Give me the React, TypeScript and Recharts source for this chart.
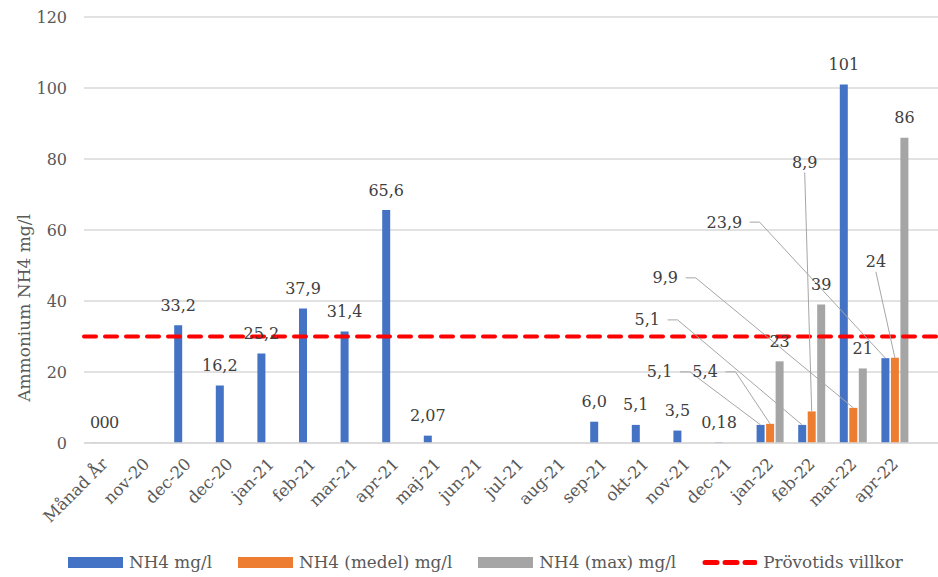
import React from 'react';
import {
  BarChart,
  Bar,
  XAxis,
  YAxis,
  CartesianGrid,
  ReferenceLine,
  LabelList,
} from 'recharts';

const categories = [
  'Månad År', 'nov-20', 'dec-20', 'dec-20', 'jan-21', 'feb-21', 'mar-21', 'apr-21',
  'maj-21', 'jun-21', 'jul-21', 'aug-21', 'sep-21', 'okt-21', 'nov-21', 'dec-21',
  'jan-22', 'feb-22', 'mar-22', 'apr-22',
];

const nh4 = [
  0, null, 33.2, 16.2, 25.2, 37.9, 31.4, 65.6, 2.07, null, null, null, 6.0, 5.1, 3.5,
  0.18, 5.1, 5.1, 101, 23.9,
];
const nh4Medel = [
  0, null, null, null, null, null, null, null, null, null, null, null, null, null, null,
  null, 5.4, 8.9, 9.9, 24,
];
const nh4Max = [
  0, null, null, null, null, null, null, null, null, null, null, null, null, null, null,
  null, 23, 39, 21, 86,
];
const limit = 30;
const yTicks = [0, 20, 40, 60, 80, 100, 120];

// "pos" is a 1-based row number, used by the label renderer to find the value
const data = categories.map((name, i) => ({
  name,
  pos: i + 1,
  nh4: nh4[i],
  medel: nh4Medel[i],
  max: nh4Max[i],
}));

const seriesValues: Record<string, (number | null)[]> = { nh4, medel: nh4Medel, max: nh4Max };

const FONT = '"DejaVu Serif", serif';
const TEXT = '#404040';
const AXIS_TEXT = '#595959';
const LEADER = '#a6a6a6';

// label offsets (label centre relative to the bar top) for the callout labels
const callouts: Record<string, Record<number, [number, number]>> = {
  nh4: { 16: [-101, -53], 17: [-155, -105], 19: [-161, -136] },
  medel: { 16: [-65, -52], 17: [-7, -249], 18: [-188, -130], 19: [-19, -96] },
  max: {},
};

const fmt = (v: number) =>
  Number.isInteger(v) && v > 0 && v < 10 ? v.toFixed(1).replace('.', ',') : String(v).replace('.', ',');

// zero values still need a (hair-thin) bar so that their "0" label is drawn
const zeroPoint = (v: any) => (v === 0 ? 0.2 : 0);

const makeLabel = (series: string) => (props: any) => {
  const { x, y, width, value } = props;
  const index = Number(value) - 1;
  const v = seriesValues[series][index];
  if (v === null || v === undefined) return null;
  const cx = Number(x) + Number(width) / 2;
  const top = Number(y);
  const text = fmt(v);
  const off = callouts[series][index];
  if (!off) {
    return (
      <text x={cx} y={top - 20} textAnchor="middle" dominantBaseline="central"
        fontSize={16} fontFamily={FONT} fill={TEXT}>
        {text}
      </text>
    );
  }
  const lx = cx + off[0];
  const ly = top + off[1];
  const hw = text.length * 4.8;
  const pts = Math.abs(off[0]) > 40
    ? `${lx + hw + 6},${ly} ${lx + hw + 16},${ly} ${cx},${top}`
    : `${lx},${ly + 10} ${cx},${top}`;
  return (
    <g>
      <polyline points={pts} fill="none" stroke={LEADER} strokeWidth={1} />
      <text x={lx} y={ly} textAnchor="middle" dominantBaseline="central"
        fontSize={16} fontFamily={FONT} fill={TEXT}>
        {text}
      </text>
    </g>
  );
};

const XTick = (props: any) => {
  const { x, y, payload } = props;
  return (
    <g transform={`translate(${x + 4},${y + 14})`}>
      <text textAnchor="end" transform="rotate(-45)" fontSize={16.5} fontFamily={FONT} fill={AXIS_TEXT}>
        {payload.value}
      </text>
    </g>
  );
};

const YTitle = (props: any) => {
  const { viewBox } = props;
  const cy = viewBox.y + viewBox.height / 2 + 78;
  return (
    <text transform={`translate(30,${cy}) rotate(-90)`} textAnchor="middle"
      fontSize={17} fontFamily={FONT} fill={AXIS_TEXT}>
      Ammonium NH4 mg/l
    </text>
  );
};

const legendItems = [
  { label: 'NH4 mg/l', color: '#4472c4', dashed: false },
  { label: 'NH4 (medel) mg/l', color: '#ed7d31', dashed: false },
  { label: 'NH4 (max) mg/l', color: '#a5a5a5', dashed: false },
  { label: 'Prövotids villkor', color: '#ff0000', dashed: true },
];

export default function App() {
  return (
    <div style={{ position: 'absolute', left: 0, top: 0, width: 938, height: 577, background: '#fff' }}>
      <BarChart
        width={938}
        height={577}
        data={data}
        margin={{ top: 17, right: 0, left: 0, bottom: 34 }}
        barSize={8}
        barGap={1.5}
      >
        <CartesianGrid vertical={false} stroke="#d9d9d9" strokeWidth={1.5} />
        <XAxis
          dataKey="name"
          interval={0}
          tick={<XTick />}
          tickLine={false}
          axisLine={{ stroke: '#d9d9d9', strokeWidth: 1.5 }}
          height={100}
          padding={{ left: 0, right: 22 }}
        />
        <YAxis
          domain={[0, 120]}
          ticks={yTicks}
          width={84}
          axisLine={false}
          tickLine={false}
          tickSize={0}
          tickMargin={17}
          tick={{ fontSize: 16, fontFamily: FONT, fill: AXIS_TEXT }}
          label={<YTitle />}
        />
        <Bar dataKey="nh4" name="NH4 mg/l" fill="#4472c4" minPointSize={zeroPoint} isAnimationActive={false}>
          <LabelList dataKey="pos" content={makeLabel('nh4')} />
        </Bar>
        <Bar dataKey="medel" name="NH4 (medel) mg/l" fill="#ed7d31" minPointSize={zeroPoint} isAnimationActive={false}>
          <LabelList dataKey="pos" content={makeLabel('medel')} />
        </Bar>
        <Bar dataKey="max" name="NH4 (max) mg/l" fill="#a5a5a5" minPointSize={zeroPoint} isAnimationActive={false}>
          <LabelList dataKey="pos" content={makeLabel('max')} />
        </Bar>
        <ReferenceLine
          y={limit}
          stroke="#ff0000"
          strokeWidth={4}
          strokeDasharray="12 9"
          strokeLinecap="round"
        />
      </BarChart>
      <div
        style={{
          position: 'absolute',
          left: 68,
          top: 552,
          display: 'flex',
          alignItems: 'center',
          gap: 26,
          fontFamily: FONT,
          fontSize: 16.8,
          color: AXIS_TEXT,
          whiteSpace: 'nowrap',
        }}
      >
        {legendItems.map((it) => (
          <div key={it.label} style={{ display: 'flex', alignItems: 'center', gap: 6 }}>
            {it.dashed ? (
              <svg width={55} height={11}>
                <line x1={3} y1={5.5} x2={53} y2={5.5} stroke={it.color} strokeWidth={5}
                  strokeDasharray="12 8" strokeLinecap="round" />
              </svg>
            ) : (
              <div style={{ width: 55, height: 11, background: it.color }} />
            )}
            <span>{it.label}</span>
          </div>
        ))}
      </div>
    </div>
  );
}
